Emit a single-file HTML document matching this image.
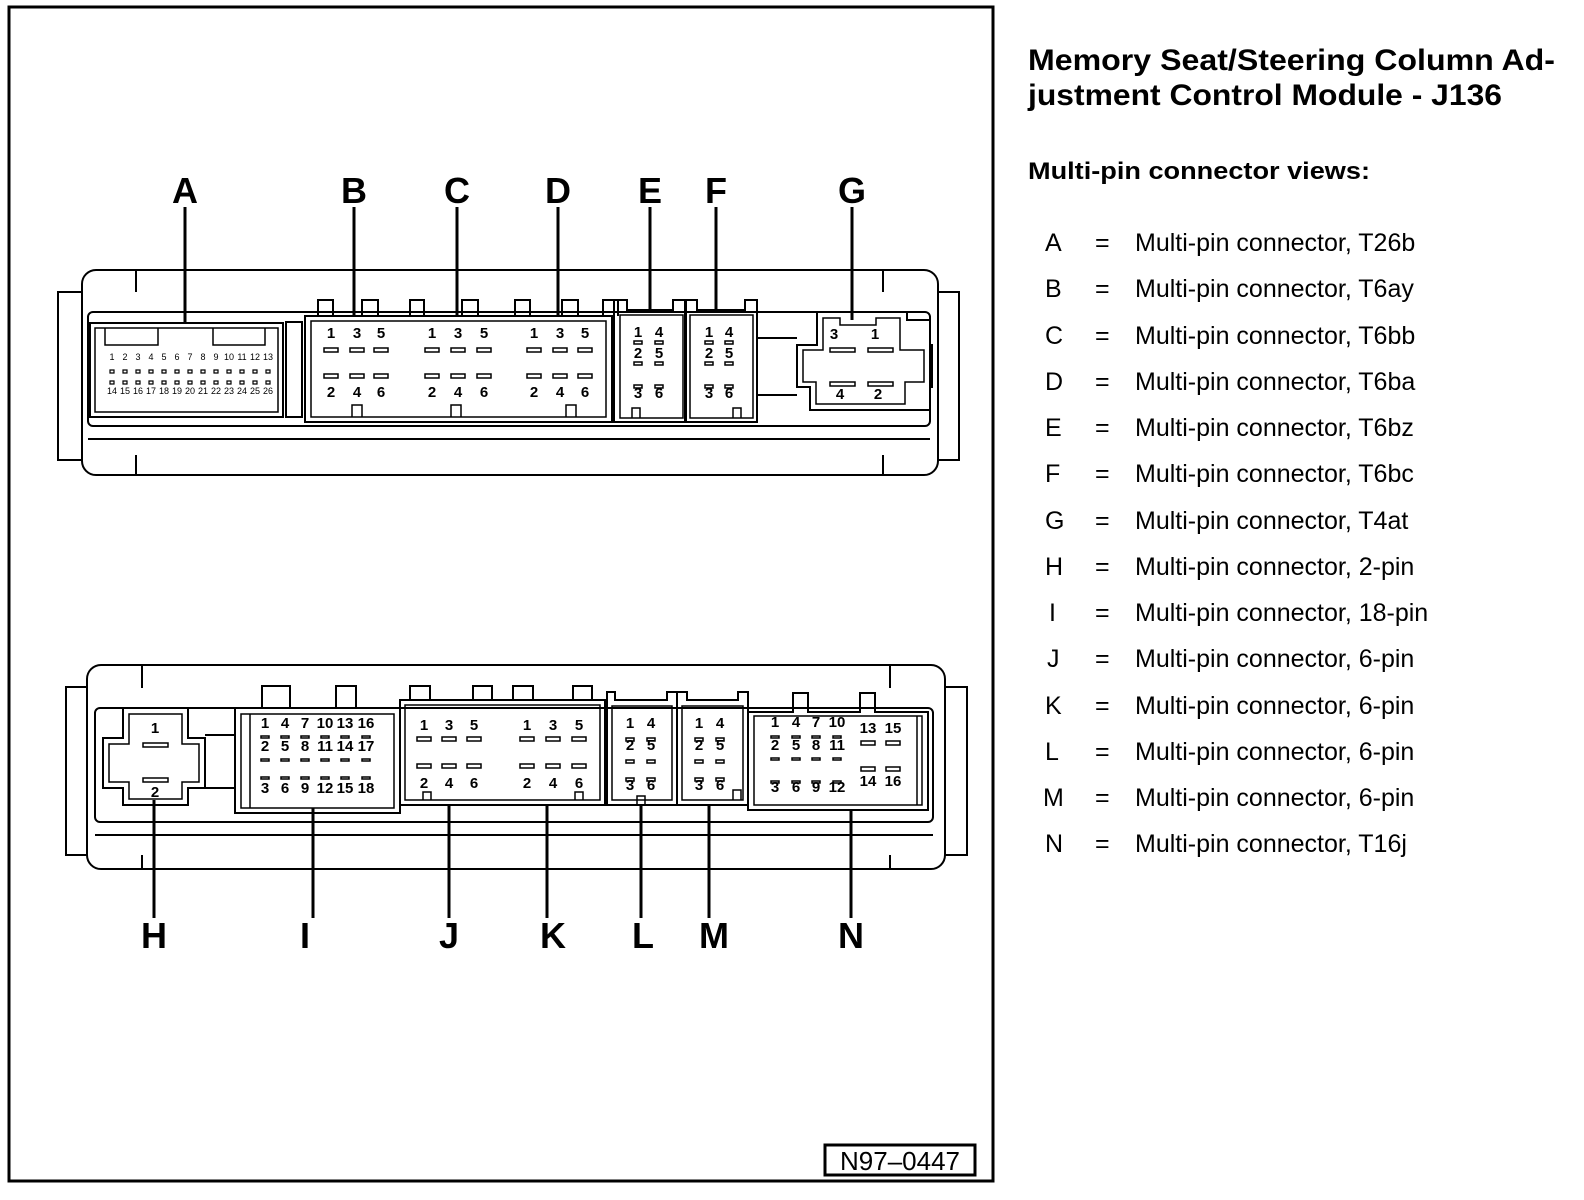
<!DOCTYPE html>
<html><head><meta charset="utf-8"><style>
html,body{margin:0;padding:0;background:#fff;}
svg{display:block;}
text{font-family:"Liberation Sans",sans-serif;fill:#000;}
.n{font-size:15px;font-weight:bold;text-anchor:middle;}
.s{font-size:9px;text-anchor:middle;}
.L{font-size:36px;font-weight:bold;text-anchor:middle;}
.t{font-size:25px;}
</style></head><body>
<svg width="1584" height="1200" viewBox="0 0 1584 1200" xmlns="http://www.w3.org/2000/svg" fill="none" stroke="#000" stroke-width="2">
<!-- frame -->
<rect x="9" y="7" width="984" height="1174" stroke-width="3"/>
<rect x="825" y="1145" width="150" height="30" stroke-width="3"/>
<text x="900" y="1170" style="font-size:26px;text-anchor:middle" stroke="none">N97–0447</text>

<!-- right text -->
<g stroke="none">
<text x="1028" y="70" style="font-size:30px;font-weight:bold" textLength="527" lengthAdjust="spacingAndGlyphs">Memory Seat/Steering Column Ad-</text>
<text x="1028" y="105" style="font-size:30px;font-weight:bold" textLength="474" lengthAdjust="spacingAndGlyphs">justment Control Module - J136</text>
<text x="1028" y="179" style="font-size:24px;font-weight:bold" textLength="342" lengthAdjust="spacingAndGlyphs">Multi-pin connector views:</text>
<g class="t">
<text x="1045" y="251">A</text><text x="1095" y="251">=</text><text x="1135" y="251">Multi-pin connector, T26b</text>
<text x="1045" y="297">B</text><text x="1095" y="297">=</text><text x="1135" y="297">Multi-pin connector, T6ay</text>
<text x="1045" y="344">C</text><text x="1095" y="344">=</text><text x="1135" y="344">Multi-pin connector, T6bb</text>
<text x="1045" y="390">D</text><text x="1095" y="390">=</text><text x="1135" y="390">Multi-pin connector, T6ba</text>
<text x="1045" y="436">E</text><text x="1095" y="436">=</text><text x="1135" y="436">Multi-pin connector, T6bz</text>
<text x="1045" y="482">F</text><text x="1095" y="482">=</text><text x="1135" y="482">Multi-pin connector, T6bc</text>
<text x="1045" y="529">G</text><text x="1095" y="529">=</text><text x="1135" y="529">Multi-pin connector, T4at</text>
<text x="1045" y="575">H</text><text x="1095" y="575">=</text><text x="1135" y="575">Multi-pin connector, 2-pin</text>
<text x="1049" y="621">I</text><text x="1095" y="621">=</text><text x="1135" y="621">Multi-pin connector, 18-pin</text>
<text x="1047" y="667">J</text><text x="1095" y="667">=</text><text x="1135" y="667">Multi-pin connector, 6-pin</text>
<text x="1045" y="714">K</text><text x="1095" y="714">=</text><text x="1135" y="714">Multi-pin connector, 6-pin</text>
<text x="1045" y="760">L</text><text x="1095" y="760">=</text><text x="1135" y="760">Multi-pin connector, 6-pin</text>
<text x="1043" y="806">M</text><text x="1095" y="806">=</text><text x="1135" y="806">Multi-pin connector, 6-pin</text>
<text x="1045" y="852">N</text><text x="1095" y="852">=</text><text x="1135" y="852">Multi-pin connector, T16j</text>
</g>
</g>

<!-- ===== TOP MODULE ===== -->
<rect x="82" y="270" width="856" height="205" rx="14"/>
<path d="M82 292 H58 V460 H82 M136 270 V292 M136 455 V475 M938 292 H959 V460 H938 M883 270 V292 M883 455 V475"/>
<rect x="88" y="312" width="842" height="114" rx="5"/>
<line x1="88" y1="439" x2="930" y2="439"/>
<!-- A -->
<rect x="90" y="323" width="193" height="94"/>
<rect x="95" y="328" width="183" height="84" stroke-width="1.5"/>
<path d="M105 328 V345 H158 V328 M213 328 V345 H265 V328 M165 323 H208" stroke-width="1.5"/>
<rect x="286" y="322" width="16" height="95"/>
<g stroke="none" class="s">
<text x="112" y="360">1</text><text x="125" y="360">2</text><text x="138" y="360">3</text><text x="151" y="360">4</text><text x="164" y="360">5</text><text x="177" y="360">6</text><text x="190" y="360">7</text><text x="203" y="360">8</text><text x="216" y="360">9</text><text x="229" y="360">10</text><text x="242" y="360">11</text><text x="255" y="360">12</text><text x="268" y="360">13</text>
<text x="112" y="394">14</text><text x="125" y="394">15</text><text x="138" y="394">16</text><text x="151" y="394">17</text><text x="164" y="394">18</text><text x="177" y="394">19</text><text x="190" y="394">20</text><text x="203" y="394">21</text><text x="216" y="394">22</text><text x="229" y="394">23</text><text x="242" y="394">24</text><text x="255" y="394">25</text><text x="268" y="394">26</text>
</g>
<g stroke-width="1.2">
<path d="M110 370h4v3h-4z M123 370h4v3h-4z M136 370h4v3h-4z M149 370h4v3h-4z M162 370h4v3h-4z M175 370h4v3h-4z M188 370h4v3h-4z M201 370h4v3h-4z M214 370h4v3h-4z M227 370h4v3h-4z M240 370h4v3h-4z M253 370h4v3h-4z M266 370h4v3h-4z"/>
<path d="M110 381h4v3h-4z M123 381h4v3h-4z M136 381h4v3h-4z M149 381h4v3h-4z M162 381h4v3h-4z M175 381h4v3h-4z M188 381h4v3h-4z M201 381h4v3h-4z M214 381h4v3h-4z M227 381h4v3h-4z M240 381h4v3h-4z M253 381h4v3h-4z M266 381h4v3h-4z"/>
</g>
<!-- B C D block -->
<path d="M305 316 H318 V300 H333 V316 H362 V300 H378 V316 H410 V300 H424 V316 H462 V300 H478 V316 H515 V300 H530 V316 H562 V300 H578 V316 H603 V300 H618 V316"/>
<rect x="305" y="316" width="307" height="106"/>
<rect x="311" y="321" width="295" height="96" stroke-width="1.5"/>
<g stroke="none" class="n">
<text x="331" y="338">1</text><text x="357" y="338">3</text><text x="381" y="338">5</text>
<text x="432" y="338">1</text><text x="458" y="338">3</text><text x="484" y="338">5</text>
<text x="534" y="338">1</text><text x="560" y="338">3</text><text x="585" y="338">5</text>
<text x="331" y="397">2</text><text x="357" y="397">4</text><text x="381" y="397">6</text>
<text x="432" y="397">2</text><text x="458" y="397">4</text><text x="484" y="397">6</text>
<text x="534" y="397">2</text><text x="560" y="397">4</text><text x="585" y="397">6</text>
</g>
<g stroke-width="1.5">
<path d="M324 348h14v4h-14z M350 348h14v4h-14z M374 348h14v4h-14z M425 348h14v4h-14z M451 348h14v4h-14z M477 348h14v4h-14z M527 348h14v4h-14z M553 348h14v4h-14z M578 348h14v4h-14z"/>
<path d="M324 374h14v4h-14z M350 374h14v4h-14z M374 374h14v4h-14z M425 374h14v4h-14z M451 374h14v4h-14z M477 374h14v4h-14z M527 374h14v4h-14z M553 374h14v4h-14z M578 374h14v4h-14z"/>
<path d="M352 417 V405 H362 V417 M451 417 V405 H461 V417 M566 417 V405 H576 V417"/>
</g>
<!-- E F -->
<path d="M614 422 V300 H627 V310 H673 V300 H685 V422 Z"/>
<rect x="620" y="315" width="63" height="103" stroke-width="1.5"/>
<path d="M686 422 V300 H697 V310 H745 V300 H757 V422 Z"/>
<rect x="690" y="315" width="63" height="103" stroke-width="1.5"/>
<g stroke="none" class="n">
<text x="638" y="337">1</text><text x="659" y="337">4</text><text x="638" y="358">2</text><text x="659" y="358">5</text><text x="638" y="398">3</text><text x="659" y="398">6</text>
<text x="709" y="337">1</text><text x="729" y="337">4</text><text x="709" y="358">2</text><text x="729" y="358">5</text><text x="709" y="398">3</text><text x="729" y="398">6</text>
</g>
<g stroke-width="1.5">
<path d="M634 341h8v3h-8z M655 341h8v3h-8z M634 362h8v3h-8z M655 362h8v3h-8z M634 385h8v3h-8z M655 385h8v3h-8z"/>
<path d="M705 341h8v3h-8z M725 341h8v3h-8z M705 362h8v3h-8z M725 362h8v3h-8z M705 385h8v3h-8z M725 385h8v3h-8z"/>
<path d="M632 418 V408 H640 V418 M733 418 V408 H741 V418"/>
</g>
<line x1="757" y1="338" x2="797" y2="338"/>
<line x1="757" y1="395" x2="797" y2="395"/>
<!-- G -->
<path d="M817 312 H907 V320 H930 V345 H932 V387 H930 V410 H810 V387 H797 V345 H817 Z"/>
<path d="M823 318 H840 V325 H876 V318 H900 V350 H924 V382 H905 V404 H816 V382 H803 V350 H823 Z" stroke-width="1.5"/>
<g stroke="none" class="n">
<text x="834" y="339">3</text><text x="875" y="339">1</text><text x="840" y="399">4</text><text x="878" y="399">2</text>
</g>
<path d="M830 348h25v4h-25z M868 348h25v4h-25z M830 382h25v4h-25z M868 382h25v4h-25z" stroke-width="1.5"/>

<!-- top leaders -->
<g stroke-width="3">
<line x1="185" y1="207" x2="185" y2="323"/>
<line x1="354" y1="207" x2="354" y2="316"/>
<line x1="457" y1="207" x2="457" y2="316"/>
<line x1="558" y1="207" x2="558" y2="316"/>
<line x1="650" y1="207" x2="650" y2="310"/>
<line x1="716" y1="207" x2="716" y2="310"/>
<line x1="852" y1="207" x2="852" y2="320"/>
</g>
<g stroke="none" class="L">
<text x="185" y="203">A</text><text x="354" y="203">B</text><text x="457" y="203">C</text><text x="558" y="203">D</text><text x="650" y="203">E</text><text x="716" y="203">F</text><text x="852" y="203">G</text>
</g>

<!-- ===== BOTTOM MODULE ===== -->
<rect x="87" y="665" width="858" height="204" rx="14"/>
<path d="M87 687 H66 V855 H87 M142 665 V688 M142 855 V869 M945 687 H967 V855 H945 M890 665 V688 M890 855 V869"/>
<rect x="95" y="708" width="838" height="114" rx="5"/>
<line x1="95" y1="835" x2="933" y2="835"/>
<!-- H -->
<path d="M123 708 H188 V738 H205 V788 H188 V805 H123 V788 H103 V738 H123 Z"/>
<path d="M129 714 H182 V744 H199 V782 H182 V799 H129 V782 H109 V744 H129 Z" stroke-width="1.5"/>
<path d="M205 735 H235 M205 788 H235"/>
<g stroke="none" class="n"><text x="155" y="733">1</text><text x="155" y="797">2</text></g>
<path d="M143 743h25v4h-25z M143 778h25v4h-25z" stroke-width="1.5"/>
<!-- I -->
<path d="M235 708 H262 V686 H290 V708 H336 V686 H356 V708 H400 V813 H235 Z"/>
<rect x="241" y="714" width="153" height="94" stroke-width="1.5"/>
<line x1="250" y1="714" x2="250" y2="808" stroke-width="1.5"/>
<g stroke="none" class="n">
<text x="265" y="728">1</text><text x="285" y="728">4</text><text x="305" y="728">7</text><text x="325" y="728">10</text><text x="345" y="728">13</text><text x="366" y="728">16</text>
<text x="265" y="751">2</text><text x="285" y="751">5</text><text x="305" y="751">8</text><text x="325" y="751">11</text><text x="345" y="751">14</text><text x="366" y="751">17</text>
<text x="265" y="793">3</text><text x="285" y="793">6</text><text x="305" y="793">9</text><text x="325" y="793">12</text><text x="345" y="793">15</text><text x="366" y="793">18</text>
</g>
<path d="M261 736h8v2h-8z M281 736h8v2h-8z M301 736h8v2h-8z M321 736h8v2h-8z M341 736h8v2h-8z M362 736h8v2h-8z M261 759h8v2h-8z M281 759h8v2h-8z M301 759h8v2h-8z M321 759h8v2h-8z M341 759h8v2h-8z M362 759h8v2h-8z M261 777h8v2h-8z M281 777h8v2h-8z M301 777h8v2h-8z M321 777h8v2h-8z M341 777h8v2h-8z M362 777h8v2h-8z" stroke-width="1.5"/>
<!-- J K -->
<path d="M400 700 H410 V686 H430 V700 H473 V686 H492 V700 H513 V686 H533 V700 H573 V686 H592 V700 H605"/>
<rect x="400" y="700" width="205" height="105"/>
<rect x="405" y="705" width="195" height="95" stroke-width="1.5"/>
<g stroke="none" class="n">
<text x="424" y="730">1</text><text x="449" y="730">3</text><text x="474" y="730">5</text>
<text x="527" y="730">1</text><text x="553" y="730">3</text><text x="579" y="730">5</text>
<text x="424" y="788">2</text><text x="449" y="788">4</text><text x="474" y="788">6</text>
<text x="527" y="788">2</text><text x="553" y="788">4</text><text x="579" y="788">6</text>
</g>
<path d="M417 737h14v4h-14z M442 737h14v4h-14z M467 737h14v4h-14z M520 737h14v4h-14z M546 737h14v4h-14z M572 737h14v4h-14z M417 764h14v4h-14z M442 764h14v4h-14z M467 764h14v4h-14z M520 764h14v4h-14z M546 764h14v4h-14z M572 764h14v4h-14z M423 800 V792 H431 V800 M575 800 V792 H583 V800" stroke-width="1.5"/>
<!-- L M -->
<path d="M607 805 V692 H615 V700 H667 V692 H677 V805 Z"/>
<rect x="612" y="706" width="60" height="94" stroke-width="1.5"/>
<path d="M677 805 V692 H687 V700 H738 V692 H748 V805 Z"/>
<rect x="682" y="706" width="61" height="94" stroke-width="1.5"/>
<g stroke="none" class="n">
<text x="630" y="728">1</text><text x="651" y="728">4</text><text x="630" y="750">2</text><text x="651" y="750">5</text><text x="630" y="790">3</text><text x="651" y="790">6</text>
<text x="699" y="728">1</text><text x="720" y="728">4</text><text x="699" y="750">2</text><text x="720" y="750">5</text><text x="699" y="790">3</text><text x="720" y="790">6</text>
</g>
<path d="M626 738h8v3h-8z M647 738h8v3h-8z M626 760h8v3h-8z M647 760h8v3h-8z M626 778h8v3h-8z M647 778h8v3h-8z M695 738h8v3h-8z M716 738h8v3h-8z M695 760h8v3h-8z M716 760h8v3h-8z M695 778h8v3h-8z M716 778h8v3h-8z M637 805 V796 H645 V805 M733 800 V790 H741 V800" stroke-width="1.5"/>
<!-- N -->
<path d="M748 712 H793 V693 H808 V712 H860 V693 H875 V712 H928 V810 H748 Z"/>
<rect x="754" y="716" width="168" height="89" stroke-width="1.5"/>
<line x1="917" y1="716" x2="917" y2="805" stroke-width="1.5"/>
<g stroke="none" class="n">
<text x="775" y="727">1</text><text x="796" y="727">4</text><text x="816" y="727">7</text><text x="837" y="727">10</text>
<text x="775" y="750">2</text><text x="796" y="750">5</text><text x="816" y="750">8</text><text x="837" y="750">11</text>
<text x="775" y="792">3</text><text x="796" y="792">6</text><text x="816" y="792">9</text><text x="837" y="792">12</text>
<text x="868" y="733">13</text><text x="893" y="733">15</text><text x="868" y="786">14</text><text x="893" y="786">16</text>
</g>
<path d="M771 736h8v2h-8z M792 736h8v2h-8z M812 736h8v2h-8z M833 736h8v2h-8z M771 758h8v2h-8z M792 758h8v2h-8z M812 758h8v2h-8z M833 758h8v2h-8z M771 781h8v2h-8z M792 781h8v2h-8z M812 781h8v2h-8z M833 781h8v2h-8z M861 741h14v4h-14z M886 741h14v4h-14z M861 767h14v4h-14z M886 767h14v4h-14z" stroke-width="1.5"/>

<!-- bottom leaders -->
<g stroke-width="3">
<line x1="154" y1="800" x2="154" y2="918"/>
<line x1="313" y1="808" x2="313" y2="918"/>
<line x1="449" y1="805" x2="449" y2="918"/>
<line x1="547" y1="805" x2="547" y2="918"/>
<line x1="641" y1="805" x2="641" y2="918"/>
<line x1="709" y1="805" x2="709" y2="918"/>
<line x1="851" y1="810" x2="851" y2="918"/>
</g>
<g stroke="none" class="L">
<text x="154" y="948">H</text><text x="305" y="948">I</text><text x="449" y="948">J</text><text x="553" y="948">K</text><text x="643" y="948">L</text><text x="714" y="948">M</text><text x="851" y="948">N</text>
</g>
</svg>
</body></html>
